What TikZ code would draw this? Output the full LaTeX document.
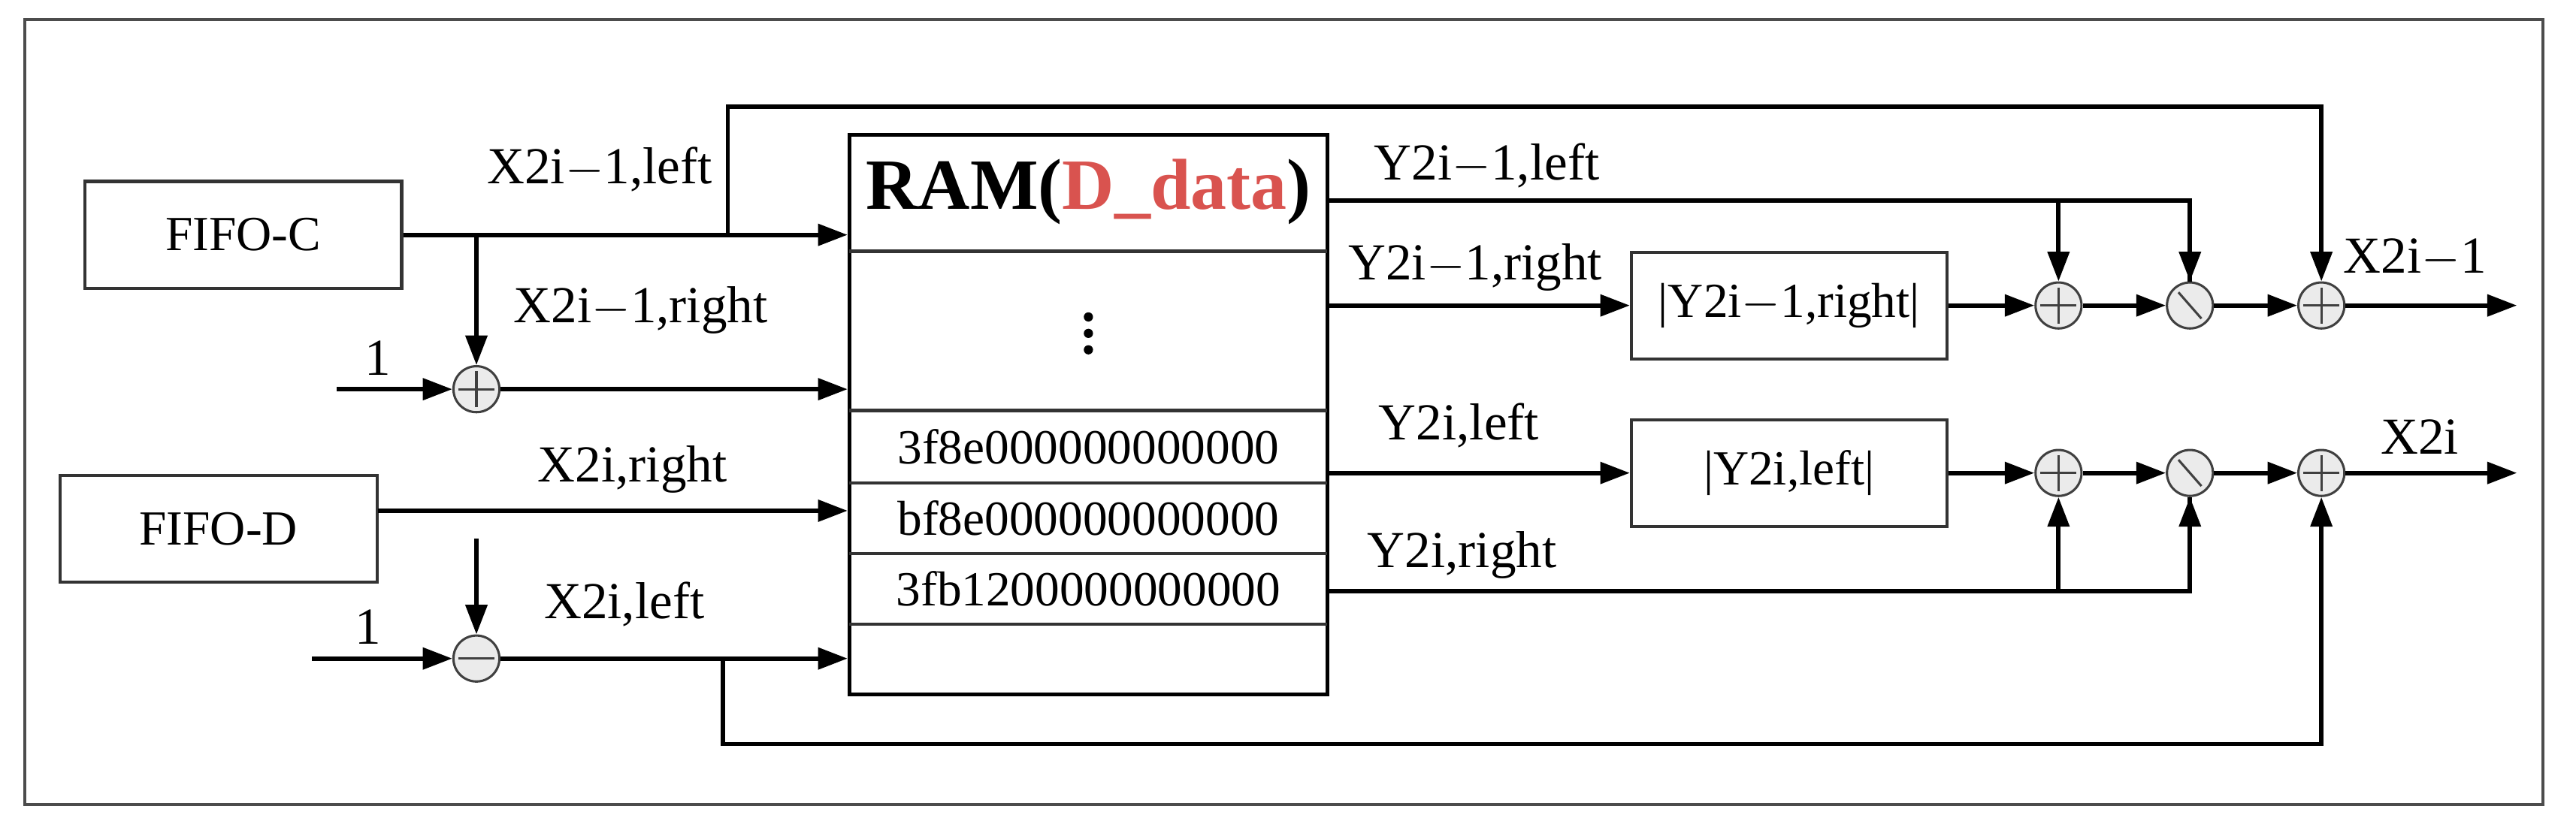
\documentclass[tikz,border=0pt]{standalone}
\usepackage{fontspec}
\setmainfont{Liberation Serif}
\usetikzlibrary{arrows.meta,calc}

\tikzset{
  blk/.style={draw=black!80, line width=1.1pt, minimum height=1.3cm, font=\fontsize{17}{17}\selectfont},
  sig/.style={line width=1.5pt, -{Triangle[length=0.36cm,width=0.26cm]}},
  wire/.style={line width=1.5pt},
  op/.style={draw=black!75, line width=0.8pt, circle, fill=black!8, minimum size=0.56cm, inner sep=0pt},
  plus/.style={op, path picture={\draw[line width=0.8pt] ([xshift=-0.22cm]path picture bounding box.center) -- ([xshift=0.22cm]path picture bounding box.center)
      ([yshift=-0.22cm]path picture bounding box.center) -- ([yshift=0.22cm]path picture bounding box.center);}},
  minus/.style={op, path picture={\draw[line width=0.8pt] ([xshift=-0.22cm]path picture bounding box.center) -- ([xshift=0.22cm]path picture bounding box.center);}},
  divd/.style={op, path picture={\draw[line width=0.8pt] ([shift={(-0.14cm,0.16cm)}]path picture bounding box.center) -- ([shift={(0.14cm,-0.16cm)}]path picture bounding box.center);}},
  lbl/.style={font=\fontsize{18}{18}\selectfont},
  hex/.style={font=\fontsize{17}{17}\selectfont},
}

\begin{document}
\begin{tikzpicture}[x=0.02cm,y=-0.02cm]
  \useasboundingbox (0,0) rectangle (1568,505);
  \draw[black!70, line width=1pt] (15,12) rectangle (1548,490);

  % sources
  \node[blk, minimum width=3.86cm] (fc) at (148,143) {FIFO-C};
  \node[blk, minimum width=3.86cm] (fd) at (133,322) {FIFO-D};

  % memory block
  \node[draw, line width=1.3pt, minimum width=5.82cm, minimum height=6.82cm] (ram) at (662.5,252.5) {};
  \foreach \yy in {153,250,294,337,380}
    \draw[black!80, line width=1.1pt] (517,\yy) -- (808,\yy);
  \node[font=\fontsize{25}{25}\selectfont\bfseries] (ttl) at (662.5,117) {RAM(\textcolor[HTML]{D9534F}{D\_data})};
  \foreach \dy in {193,203,213}
    \fill (662.5,\dy) circle (1.6pt);
  \node[hex] (h1) at (662.5,272) {3f8e000000000000};
  \node[hex] (h2) at (662.5,315.5) {bf8e000000000000};
  \node[hex] (h3) at (662.5,358.5) {3fb1200000000000};

  % operators
  \node[plus] (sa) at (290,237) {};
  \node[minus] (sb) at (290,401) {};
  \node[blk, minimum width=3.84cm] (ab1) at (1089,186) {|Y2i$-$1,right|};
  \node[blk, minimum width=3.84cm] (ab2) at (1089,288) {|Y2i,left|};
  \node[plus] (p1) at (1253,186) {};
  \node[divd] (d1) at (1333,186) {};
  \node[plus] (q1) at (1413,186) {};
  \node[plus] (p2) at (1253,288) {};
  \node[divd] (d2) at (1333,288) {};
  \node[plus] (q2) at (1413,288) {};

  \coordinate (b1) at (290,143);
  \coordinate (t1) at (443,143);
  \coordinate (o1) at (205,237);
  \coordinate (o2) at (190,401);
  \coordinate (m1) at (290,328);
  \coordinate (f1) at (230,311);
  \coordinate (t2) at (440,401);
  \coordinate (r1) at (808,122);
  \coordinate (r2) at (808,360);
  \coordinate (e1) at (1532,186);
  \coordinate (e2) at (1532,288);

  % left side
  \draw[sig] (fc.east) -- (fc.east -| ram.west);
  \draw[sig] (b1) -- (sa.north);
  \draw[sig] (t1) -- ++(0,-78) -| (q1.north);
  \draw[sig] (o1) -- (sa.west);
  \draw[sig] (sa.east) -- (sa.east -| ram.west);
  \draw[sig] (f1) -- (f1 -| ram.west);
  \draw[sig] (m1) -- (sb.north);
  \draw[sig] (o2) -- (sb.west);
  \draw[sig] (sb.east) -- (sb.east -| ram.west);
  \draw[sig] (t2) -- ++(0,52) -| (q2.south);

  % right side
  \draw[wire] (r1) -| (d1.north);
  \draw[sig] (r1 -| p1) -- (p1.north);
  \draw[sig] (r1 -| d1) -- (d1.north);
  \draw[sig] (ab1.west -| ram.east) -- (ab1.west);
  \draw[sig] (ab1.east) -- (p1.west);
  \draw[sig] (p1.east) -- (d1.west);
  \draw[sig] (d1.east) -- (q1.west);
  \draw[sig] (q1.east) -- (e1);
  \draw[sig] (ab2.west -| ram.east) -- (ab2.west);
  \draw[sig] (ab2.east) -- (p2.west);
  \draw[sig] (p2.east) -- (d2.west);
  \draw[sig] (d2.east) -- (q2.west);
  \draw[sig] (q2.east) -- (e2);
  \draw[wire] (r2) -| (d2.south);
  \draw[sig] (r2 -| p2) -- (p2.south);
  \draw[sig] (r2 -| d2) -- (d2.south);

  % labels
  \node[lbl] at (365,103) {X2i$-$1,left};
  \node[lbl] at (390,189) {X2i$-$1,right};
  \node[lbl] at (385,286) {X2i,right};
  \node[lbl] at (380,368) {X2i,left};
  \node[lbl] at (230,218) {1};
  \node[lbl] at (224,382) {1};
  \node[lbl] at (905,101) {Y2i$-$1,left};
  \node[lbl] at (898,163) {Y2i$-$1,right};
  \node[lbl] at (888,259) {Y2i,left};
  \node[lbl] at (890,338) {Y2i,right};
  \node[lbl] at (1470,157) {X2i$-$1};
  \node[lbl] at (1473,266) {X2i};
\end{tikzpicture}
\end{document}
